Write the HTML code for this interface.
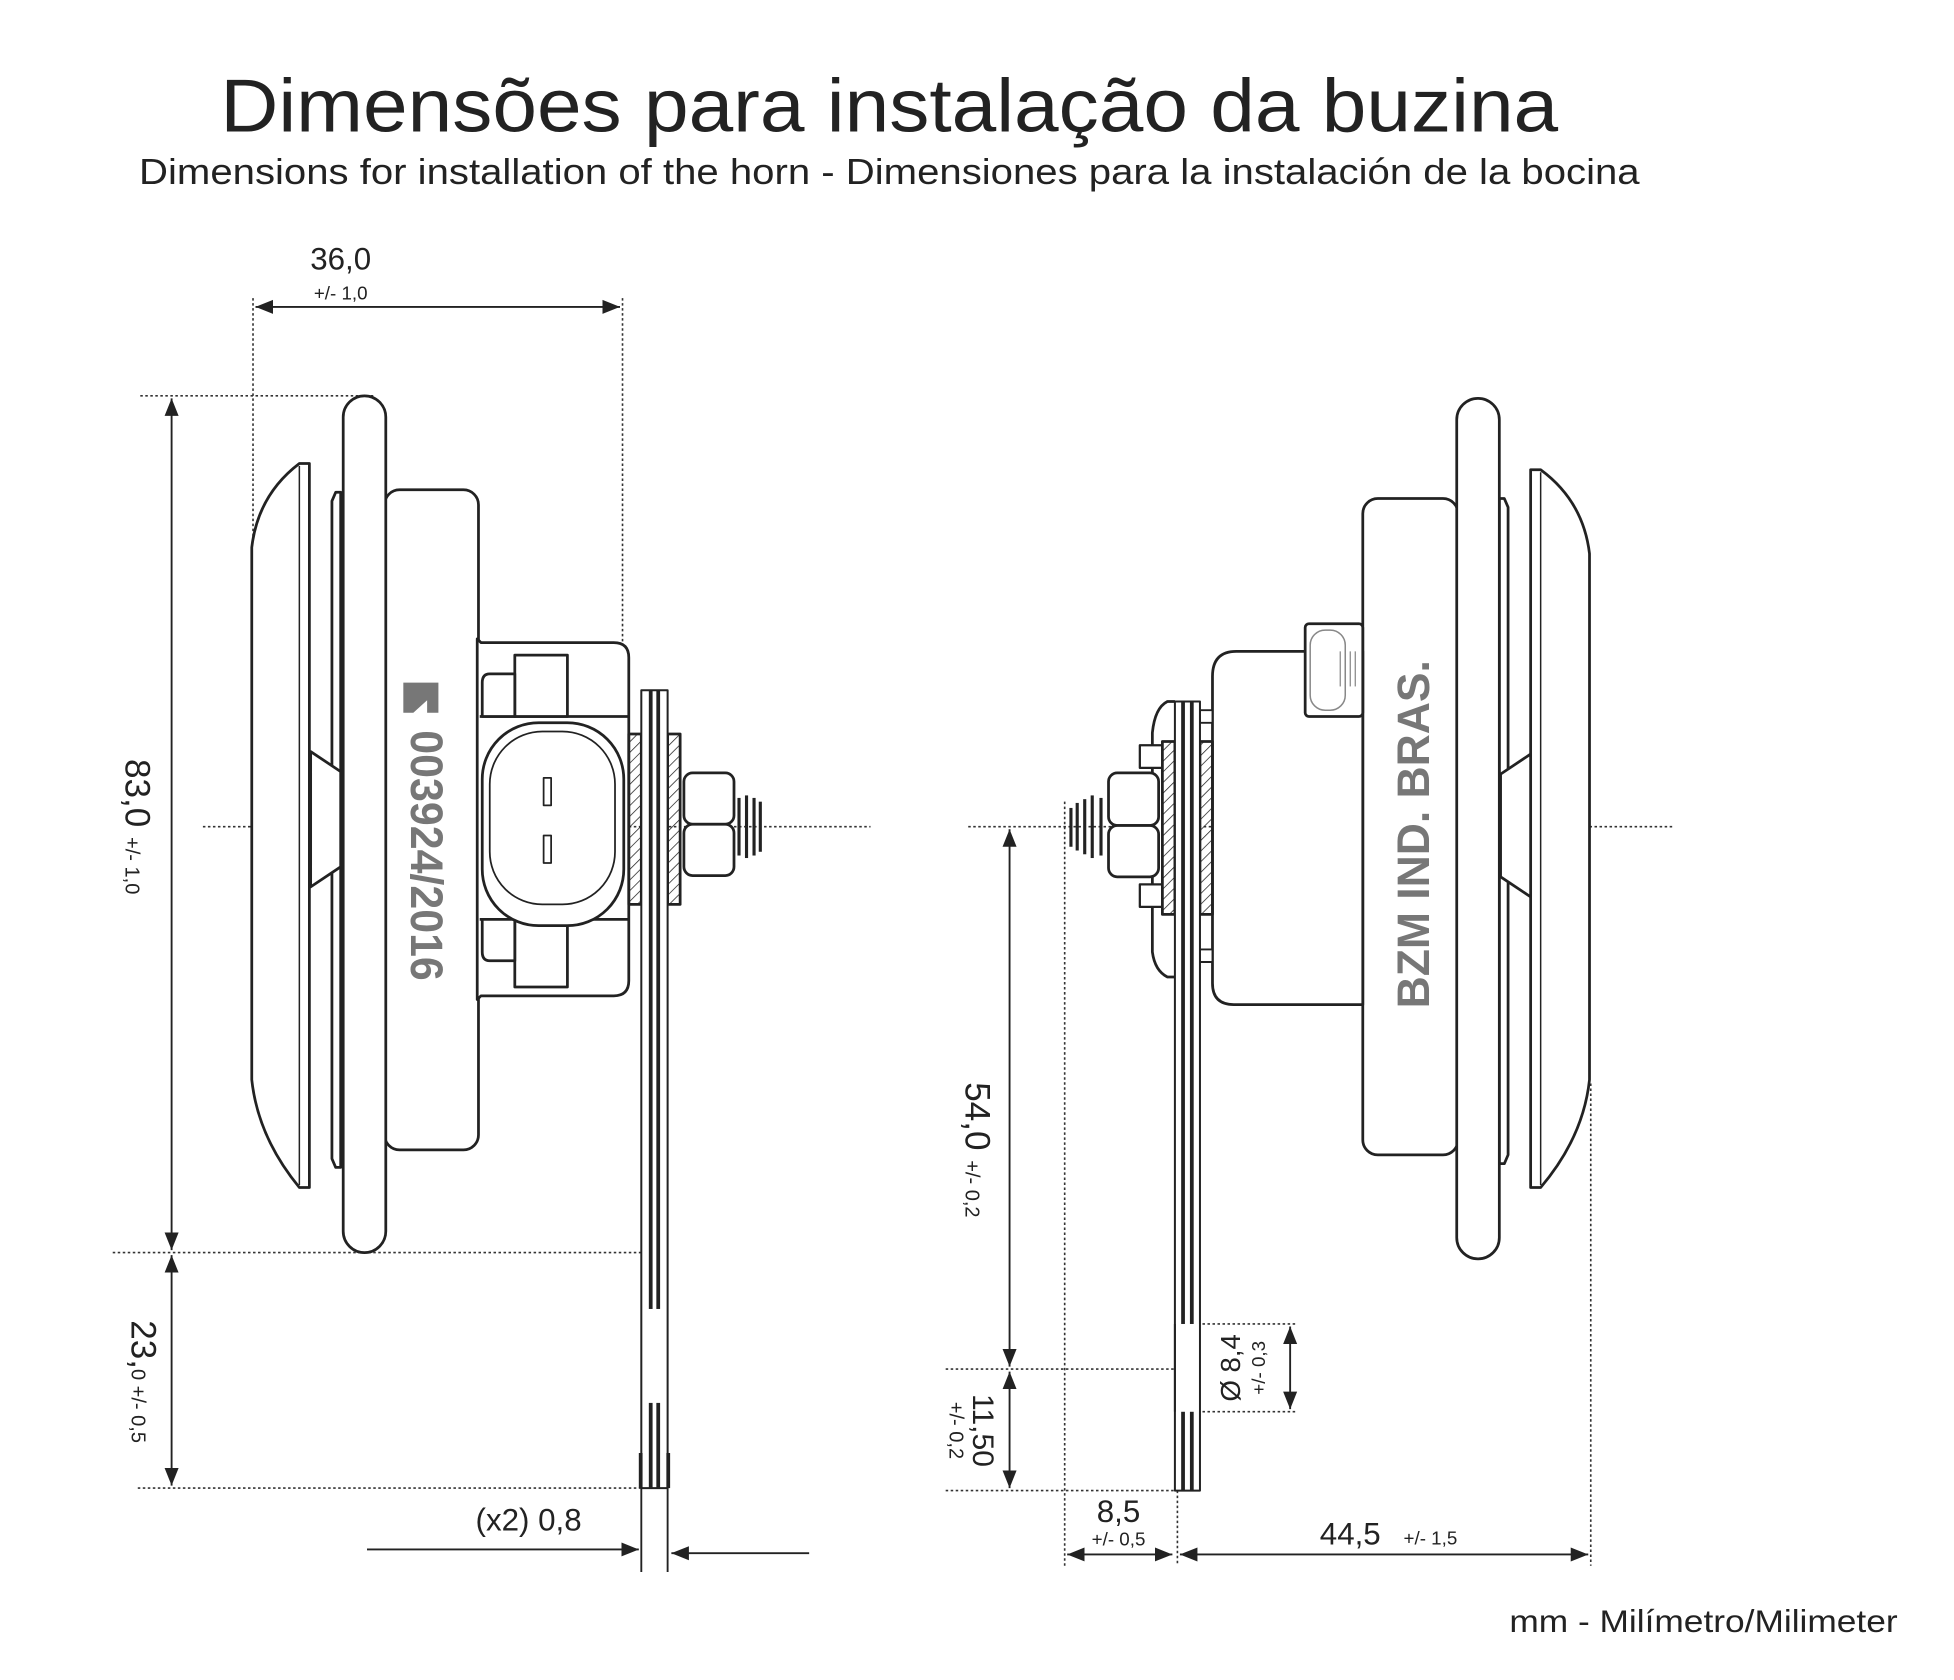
<!DOCTYPE html>
<html><head><meta charset="utf-8"><style>
html,body{margin:0;padding:0;background:#fff;}
svg{display:block;}
text{font-family:"Liberation Sans",Arial,sans-serif;fill:#222;}
</style></head><body>
<svg width="1954" height="1680" viewBox="0 0 1560 1341.2" xmlns="http://www.w3.org/2000/svg">
<defs>
<pattern id="h" width="6" height="6" patternUnits="userSpaceOnUse" patternTransform="rotate(45)"><line x1="0" y1="0" x2="0" y2="6" stroke="#222" stroke-width="1.2"/></pattern>
<marker id="b" viewBox="0 0 10 10" refX="10" refY="5" markerWidth="14" markerHeight="14" markerUnits="userSpaceOnUse" orient="auto-start-reverse"><path d="M0,1 L10,5 L0,9 Z" fill="#222"/></marker>
</defs>
<text x="710" y="105" font-size="60" text-anchor="middle" textLength="1068" lengthAdjust="spacingAndGlyphs">Dimensões para instalação da buzina</text>
<text x="710" y="147" font-size="29" text-anchor="middle" textLength="1198" lengthAdjust="spacingAndGlyphs">Dimensions for installation of the horn - Dimensiones para la instalación de la bocina</text>

<g stroke="#333" stroke-width="1.3" stroke-dasharray="2,2" fill="none">
<line x1="202" y1="238" x2="202" y2="440"/>
<line x1="497" y1="238" x2="497" y2="520"/>
<line x1="112" y1="316" x2="300" y2="316"/>
<line x1="90" y1="1000" x2="512" y2="1000"/>
<line x1="110" y1="1188" x2="512" y2="1188"/>
<line x1="162" y1="660" x2="695" y2="660"/>
<line x1="773" y1="660" x2="1337" y2="660"/>
<line x1="755" y1="1093" x2="940" y2="1093"/>
<line x1="755" y1="1190" x2="940" y2="1190"/>
<line x1="850" y1="640" x2="850" y2="1250"/>
<line x1="940" y1="1190" x2="940" y2="1250"/>
<line x1="1270" y1="865" x2="1270" y2="1250"/>
<line x1="960" y1="1057" x2="1035" y2="1057"/>
<line x1="960" y1="1127" x2="1035" y2="1127"/>
</g>

<g stroke="#222" stroke-width="1.5" fill="none">
<line x1="204" y1="245" x2="495" y2="245" marker-start="url(#b)" marker-end="url(#b)"/>
<line x1="137" y1="318" x2="137" y2="998" marker-start="url(#b)" marker-end="url(#b)"/>
<line x1="137" y1="1002" x2="137" y2="1186" marker-start="url(#b)" marker-end="url(#b)"/>
<line x1="806" y1="662" x2="806" y2="1091" marker-start="url(#b)" marker-end="url(#b)"/>
<line x1="806" y1="1095" x2="806" y2="1188" marker-start="url(#b)" marker-end="url(#b)"/>
<line x1="1030" y1="1059" x2="1030" y2="1125" marker-start="url(#b)" marker-end="url(#b)"/>
<line x1="852" y1="1241" x2="936" y2="1241" marker-start="url(#b)" marker-end="url(#b)"/>
<line x1="942" y1="1241" x2="1268" y2="1241" marker-start="url(#b)" marker-end="url(#b)"/>
<line x1="293" y1="1237" x2="510" y2="1237" marker-end="url(#b)"/>
<line x1="646" y1="1240" x2="536" y2="1240" marker-end="url(#b)"/>
<line x1="512" y1="1160" x2="512" y2="1255"/>
<line x1="533" y1="1160" x2="533" y2="1255"/>
</g>

<text x="272" y="215" font-size="25" text-anchor="middle">36,0</text>
<text x="272" y="239" font-size="15" text-anchor="middle">+/- 1,0</text>
<text transform="translate(100,660) rotate(90)" font-size="28" text-anchor="middle">83,0 <tspan font-size="16">+/- 1,0</tspan></text>
<text transform="translate(105,1103) rotate(90)" font-size="28" text-anchor="middle">23,<tspan font-size="16">0 +/- 0,5</tspan></text>
<text transform="translate(771,918) rotate(90)" font-size="28" text-anchor="middle">54,0 <tspan font-size="16">+/- 0,2</tspan></text>
<text transform="translate(777,1142) rotate(90)" font-size="24" text-anchor="middle">11,50</text>
<text transform="translate(758,1142) rotate(90)" font-size="16" text-anchor="middle">+/- 0,2</text>
<text transform="translate(990,1092) rotate(-90)" font-size="22" text-anchor="middle">Ø 8,4</text>
<text transform="translate(1010,1092) rotate(-90)" font-size="15" text-anchor="middle">+/- 0,3</text>
<text x="893" y="1215" font-size="25" text-anchor="middle">8,5</text>
<text x="893" y="1234" font-size="15" text-anchor="middle">+/- 0,5</text>
<text x="1078" y="1233" font-size="25" text-anchor="middle">44,5</text>
<text x="1142" y="1233" font-size="15" text-anchor="middle">+/- 1,5</text>
<text x="422" y="1222" font-size="25" text-anchor="middle">(x2) 0,8</text>
<text x="1515" y="1303" font-size="25" text-anchor="end" textLength="310" lengthAdjust="spacingAndGlyphs">mm - Milímetro/Milimeter</text>

<!-- LEFT HORN -->
<g stroke="#222" stroke-width="2.2" fill="#fff" stroke-linejoin="round">
<path d="M247,370 L239,370 Q206,395 201,437 L201,862 Q206,908 239,948 L247,948 Z"/>
<line x1="239" y1="372" x2="239" y2="946" stroke-width="1.2"/>
<path d="M272,393 L268,393 L265,400 L265,925 L268,932 L272,932 Z"/>
<path d="M248,600 L272,616 L272,692 L248,708 Z"/>
<rect x="307" y="391" width="75" height="527" rx="12"/>
<rect x="274" y="316" width="34" height="684" rx="17"/>
<path d="M381,510 L384,513 L490,513 Q502,513 502,525 L502,783 Q502,795 490,795 L384,795 L381,798 Z"/>
<line x1="383" y1="572" x2="502" y2="572"/>
<line x1="383" y1="734" x2="502" y2="734"/>
<rect x="411" y="523" width="42" height="49"/>
<path d="M411,538 L391,538 Q385,538 385,545 L385,572 L411,572 Z"/>
<rect x="411" y="734" width="42" height="54"/>
<path d="M411,734 L385,734 L385,760 Q385,767 391,767 L411,767 Z"/>
<rect x="385" y="577" width="113" height="162" rx="45"/>
<rect x="391" y="584" width="100" height="138" rx="42" stroke-width="1.4"/>
<rect x="434" y="621" width="6" height="22" stroke-width="1.4"/>
<rect x="434" y="667" width="6" height="22" stroke-width="1.4"/>
<rect x="502" y="586" width="10" height="136" fill="url(#h)"/>
<rect x="533" y="586" width="10" height="136" fill="url(#h)"/>
<rect x="546" y="617" width="40" height="41" rx="7"/>
<rect x="546" y="658" width="40" height="41" rx="7"/>
<g stroke-width="2.5"><line x1="590" y1="637" x2="590" y2="683"/><line x1="596" y1="635" x2="596" y2="685"/><line x1="602" y1="637" x2="602" y2="683"/><line x1="607" y1="640" x2="607" y2="680"/></g>
<rect x="512" y="551" width="21" height="637" stroke-width="1.6"/>
</g>
<g fill="#222">
<rect x="518" y="551" width="3" height="494"/><rect x="524" y="551" width="3" height="494"/>
<rect x="518" y="1120" width="3" height="68"/><rect x="524" y="1120" width="3" height="68"/>
<rect x="510" y="1160" width="3" height="28"/><rect x="532" y="1160" width="3" height="28"/>
</g>
<text transform="translate(328,583) rotate(90)" font-size="36" font-weight="bold" style="fill:#777" textLength="200" lengthAdjust="spacingAndGlyphs">003924/2016</text>
<path d="M322,545 L350,545 L350,569 L341,569 L341,559 L330,569 L322,569 Z" fill="#777"/>

<!-- RIGHT HORN -->
<g stroke="#222" stroke-width="2.2" fill="#fff" stroke-linejoin="round">
<path d="M1222,375 L1230,375 Q1264,400 1269,442 L1269,862 Q1264,908 1230,948 L1222,948 Z"/>
<line x1="1230" y1="377" x2="1230" y2="946" stroke-width="1.2"/>
<path d="M1197,398 L1201,398 L1204,405 L1204,922 L1201,929 L1197,929 Z"/>
<path d="M1222,602 L1198,618 L1198,700 L1222,716 Z"/>
<rect x="1088" y="398" width="76" height="524" rx="12"/>
<rect x="1163" y="318" width="34" height="687" rx="17"/>
<path d="M1088,520 L987,520 Q968,520 968,540 L968,785 Q968,802 985,802 L1088,802 Z"/>
<rect x="1042" y="498" width="46" height="74" rx="3"/>
<rect x="1046" y="503" width="28" height="64" rx="12" stroke="#888" stroke-width="1.2"/>
<g stroke="#888" stroke-width="1"><line x1="1070" y1="520" x2="1070" y2="548"/><line x1="1074" y1="520" x2="1074" y2="548"/><line x1="1078" y1="520" x2="1078" y2="548"/><line x1="1082" y1="520" x2="1082" y2="548"/></g>
<path d="M938,560 L932,560 Q922,565 920,585 L920,760 Q922,775 932,780 L938,780"/>
<rect x="958" y="567" width="10" height="10" stroke-width="1.5"/>
<rect x="958" y="758" width="10" height="10" stroke-width="1.5"/>
<rect x="910" y="595" width="18" height="18" stroke-width="1.8"/>
<rect x="910" y="706" width="18" height="18" stroke-width="1.8"/>
<rect x="928" y="592" width="10" height="138" fill="url(#h)"/>
<rect x="958" y="592" width="10" height="138" fill="url(#h)"/>
<rect x="885" y="617" width="40" height="42" rx="7"/>
<rect x="885" y="659" width="40" height="41" rx="7"/>
<g stroke-width="2.5"><line x1="879" y1="637" x2="879" y2="683"/><line x1="872" y1="635" x2="872" y2="685"/><line x1="866" y1="638" x2="866" y2="682"/><line x1="860" y1="641" x2="860" y2="679"/><line x1="855" y1="645" x2="855" y2="676"/></g>
<rect x="938" y="560" width="20" height="630" stroke-width="1.6"/>
</g>
<g fill="#222">
<rect x="943" y="560" width="3" height="497"/><rect x="950" y="560" width="3" height="497"/>
<rect x="943" y="1127" width="3" height="63"/><rect x="950" y="1127" width="3" height="63"/>
</g>
<rect x="939" y="1057" width="18" height="70" fill="#fff"/>
<line x1="938" y1="1057" x2="938" y2="1127" stroke="#222" stroke-width="1.6"/>
<text transform="translate(1141,805) rotate(-90)" font-size="36" font-weight="bold" style="fill:#777" textLength="278" lengthAdjust="spacingAndGlyphs">BZM  IND. BRAS.</text>
</svg>
</body></html>
